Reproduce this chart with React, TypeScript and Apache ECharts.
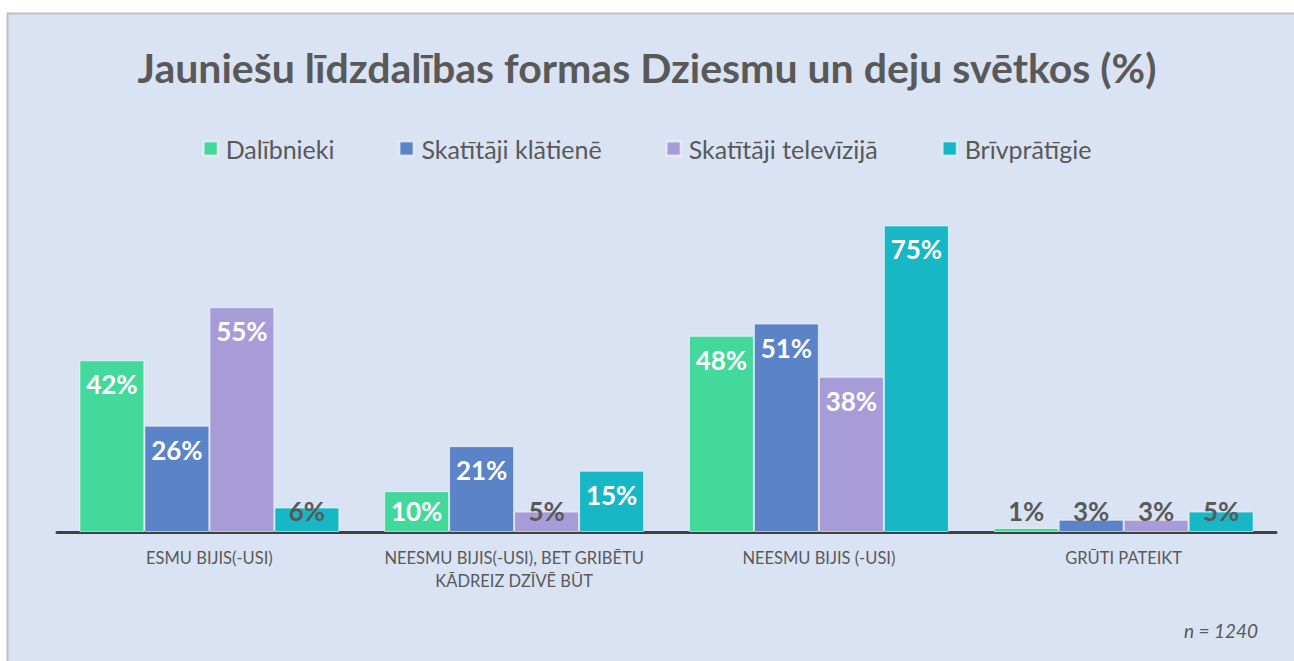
import React, { useEffect, useRef } from "react";
import * as echarts from "echarts";

const titleText = "Jaunie\u0161u l\u012bdzdal\u012bbas formas Dziesmu un deju sv\u0113tkos (%)";
const categories = [
  "ESMU BIJIS(-USI)",
  "NEESMU BIJIS(-USI), BET GRIB\u0112TU\nK\u0100DREIZ DZ\u012aV\u0112 B\u016aT",
  "NEESMU BIJIS (-USI)",
  "GR\u016aTI PATEIKT",
];
const seriesNames = ["Dal\u012bbnieki", "Skat\u012bt\u0101ji kl\u0101tien\u0113", "Skat\u012bt\u0101ji telev\u012bzij\u0101", "Br\u012bvpr\u0101t\u012bgie"];
const dalibnieki = [42, 10, 48, 1];
const klatiene = [26, 21, 51, 3];
const televizija = [55, 5, 38, 3];
const brivpratigie = [6, 15, 75, 5];
const sampleNote = "n = 1240";

const colors = ["#44D99C", "#5B83C7", "#A89CD8", "#17B7C6"];
const FONT = "Lato, 'Noto Sans', sans-serif";
const DARK = "#595959";

function makeData(values: number[]) {
  return values.map((v) => {
    const small = v < 12;
    return {
      value: v,
      label: {
        show: true,
        position: small ? "insideBottom" : "insideTop",
        distance: small ? 8 : 11,
        color: v >= 10 ? "#ffffff" : DARK,
        fontSize: 26,
        fontWeight: "bold",
        fontFamily: FONT,
        formatter: "{c}%",
      },
    };
  });
}

export default function App() {
  const ref = useRef<HTMLDivElement>(null);
  useEffect(() => {
    if (!ref.current) return;
    const chart = echarts.init(ref.current, null, { renderer: "svg" });
    const all = [dalibnieki, klatiene, televizija, brivpratigie];
    chart.setOption({
      animation: false,
      backgroundColor: "#ffffff",
      graphic: [
        {
          type: "rect",
          z: -10,
          shape: { x: 7.5, y: 13.5, width: 1320, height: 700 },
          style: { fill: "#DAE3F3", stroke: "#BFBFBF", lineWidth: 2 },
          silent: true,
        },
        {
          type: "text",
          right: 36,
          top: 621,
          style: {
            text: sampleNote,
            font: "italic 19px " + FONT,
            fill: DARK,
          },
        },
      ],
      title: {
        text: titleText,
        left: "center",
        top: 42,
        textStyle: {
          fontFamily: FONT,
          fontSize: 41,
          fontWeight: "bold",
          color: DARK,
        },
      },
      legend: {
        top: 131,
        left: "center",
        itemWidth: 14,
        itemHeight: 14,
        itemGap: 64,
        icon: "rect",
        textStyle: { fontFamily: FONT, fontSize: 25, color: DARK, padding: [0, 0, 0, 3] },
        data: seriesNames,
      },
      grid: { left: 57, right: 18, top: 205, bottom: 129 },
      xAxis: {
        type: "category",
        data: categories,
        axisLine: { lineStyle: { color: "#404040", width: 3 } },
        axisTick: { show: false },
        axisLabel: {
          fontFamily: FONT,
          fontSize: 16.5,
          color: DARK,
          lineHeight: 23,
          margin: 14,
          interval: 0,
        },
      },
      yAxis: {
        type: "value",
        min: 0,
        max: 80,
        show: false,
        splitLine: { show: false },
      },
      series: all.map((vals, i) => ({
        name: seriesNames[i],
        type: "bar",
        data: makeData(vals),
        barWidth: 65,
        barGap: "0%",
        itemStyle: {
          color: colors[i],
          borderColor: "rgba(255,255,255,0.6)",
          borderWidth: 1,
        },
      })),
    });
    return () => chart.dispose();
  }, []);
  return (
    <div
      ref={ref}
      style={{ position: "absolute", left: 0, top: 0, width: 1294, height: 661 }}
    />
  );
}
